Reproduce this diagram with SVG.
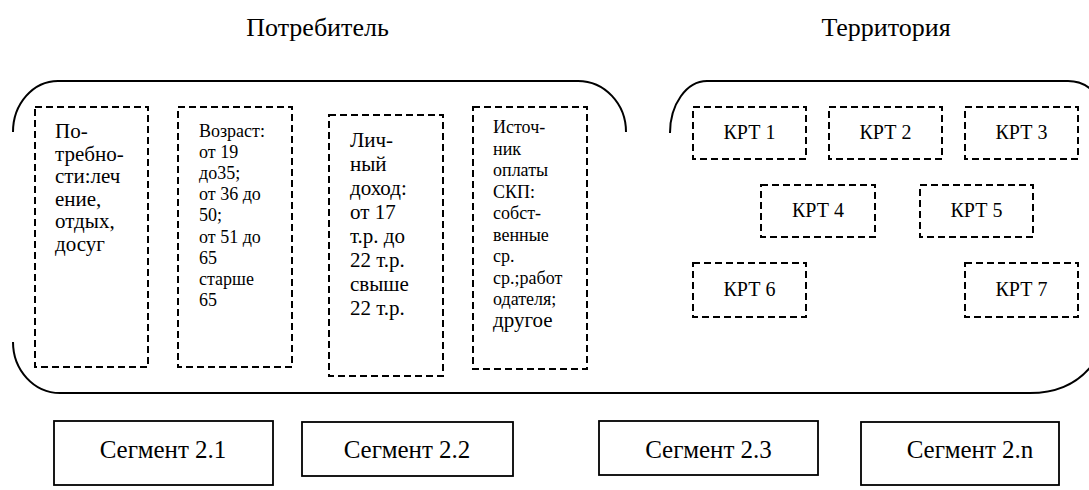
<svg xmlns="http://www.w3.org/2000/svg" width="1089" height="490" viewBox="0 0 1089 490">
  <style>
    text { font-family: 'Liberation Serif', 'DejaVu Serif', serif; fill: #000; }
    .title { font-size: 26px; text-anchor: middle; }
    .seg { font-size: 25px; text-anchor: middle; }
    .krt { font-size: 20px; text-anchor: middle; }
    .t21 { font-size: 21px; }
    .t18 { font-size: 18px; }
    .frame { fill: none; stroke: #000; stroke-width: 2; }
    .dash { fill: none; stroke: #000; stroke-width: 2; stroke-dasharray: 7 4; }
    .solid { fill: #fff; stroke: #000; stroke-width: 1.8; }
  </style>

  <!-- group titles -->
  <text class="title" x="317.5" y="36" font-family="Liberation Serif, serif">Потребитель</text>
  <text class="title" x="886" y="36">Территория</text>

  <!-- bracket outlines enclosing both groups -->
  <g id="connectors">
    <path class="frame" d="M13,132 A45,51 0 0 1 58,81 L578,81 A48,51 0 0 1 626,132"/>
    <path class="frame" d="M670,133 A37,52 0 0 1 707,81 L1068,81 A36,36 0 0 1 1104,117"/>
    <path class="frame" d="M13,342 A47,51 0 0 0 60,393 L1030,393 Q1075,393 1097,358"/>
  </g>

  <!-- consumer criteria -->
  <g id="needs">
    <rect class="dash" x="35" y="107" width="113" height="260"/>
    <text class="t21">
      <tspan x="55" y="138">По-</tspan>
      <tspan x="55" y="160.5">требно-</tspan>
      <tspan x="55" y="183">сти:леч</tspan>
      <tspan x="55" y="205.5">ение,</tspan>
      <tspan x="55" y="228">отдых,</tspan>
      <tspan x="55" y="250.5">досуг</tspan>
    </text>
  </g>
  <g id="age">
    <rect class="dash" x="178" y="107" width="114" height="260"/>
    <text class="t18">
      <tspan x="199" y="137">Возраст:</tspan>
      <tspan x="199" y="158.1">от 19</tspan>
      <tspan x="199" y="179.2">до35;</tspan>
      <tspan x="199" y="200.3">от 36 до</tspan>
      <tspan x="199" y="221.4">50;</tspan>
      <tspan x="199" y="242.5">от 51 до</tspan>
      <tspan x="199" y="263.6">65</tspan>
      <tspan x="199" y="284.7">старше</tspan>
      <tspan x="199" y="305.8">65</tspan>
    </text>
  </g>
  <g id="income">
    <rect class="dash" x="329" y="115" width="114" height="261"/>
    <text class="t21">
      <tspan x="350" y="147">Лич-</tspan>
      <tspan x="350" y="171">ный</tspan>
      <tspan x="350" y="195">доход:</tspan>
      <tspan x="350" y="219">от 17</tspan>
      <tspan x="350" y="243">т.р. до</tspan>
      <tspan x="350" y="267">22 т.р.</tspan>
      <tspan x="350" y="291">свыше</tspan>
      <tspan x="350" y="315">22 т.р.</tspan>
    </text>
  </g>
  <g id="payment">
    <rect class="dash" x="473" y="107" width="114" height="262"/>
    <text class="t18">
      <tspan x="493" y="133">Источ-</tspan>
      <tspan x="493" y="154.5">ник</tspan>
      <tspan x="493" y="176">оплаты</tspan>
      <tspan x="493" y="197.5">СКП:</tspan>
      <tspan x="493" y="219">собст-</tspan>
      <tspan x="493" y="240.5">венные</tspan>
      <tspan x="493" y="262">ср.</tspan>
      <tspan x="493" y="283.5">ср.;работ</tspan>
      <tspan x="493" y="305">одателя;</tspan>
    </text>
    <text class="t21" x="493" y="327">другое</text>
  </g>

  <!-- territory units -->
  <g id="krt1"><rect class="dash" x="693" y="107" width="113" height="52"/><text class="krt" x="749.5" y="139">КРТ 1</text></g>
  <g id="krt2"><rect class="dash" x="829" y="107" width="113" height="52"/><text class="krt" x="885.5" y="139">КРТ 2</text></g>
  <g id="krt3"><rect class="dash" x="965" y="107" width="113" height="52"/><text class="krt" x="1021.5" y="139">КРТ 3</text></g>
  <g id="krt4"><rect class="dash" x="761" y="185" width="114" height="52"/><text class="krt" x="818" y="217">КРТ 4</text></g>
  <g id="krt5"><rect class="dash" x="920" y="185" width="113" height="52"/><text class="krt" x="976.5" y="217">КРТ 5</text></g>
  <g id="krt6"><rect class="dash" x="693" y="263" width="113" height="54"/><text class="krt" x="749.5" y="296">КРТ 6</text></g>
  <g id="krt7"><rect class="dash" x="965" y="263" width="113" height="54"/><text class="krt" x="1021.5" y="296">КРТ 7</text></g>

  <!-- resulting segments -->
  <g id="seg21"><rect class="solid" x="54" y="421" width="219" height="64"/><text class="seg" x="163" y="458">Сегмент 2.1</text></g>
  <g id="seg22"><rect class="solid" x="302" y="422" width="211" height="54"/><text class="seg" x="407" y="458">Сегмент 2.2</text></g>
  <g id="seg23"><rect class="solid" x="599" y="421" width="219" height="54"/><text class="seg" x="708.5" y="458">Сегмент 2.3</text></g>
  <g id="seg2n"><rect class="solid" x="861" y="422" width="198" height="63"/><text class="seg" x="970" y="458">Сегмент 2.n</text></g>
</svg>
